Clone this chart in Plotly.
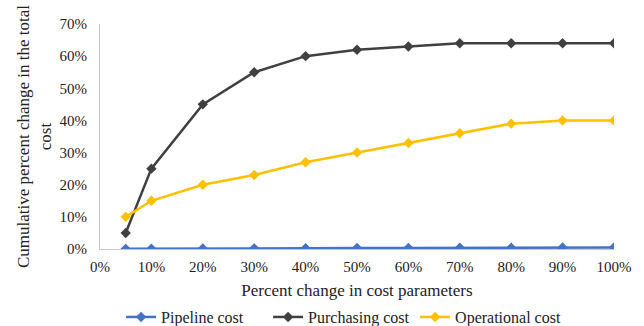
import plotly.graph_objects as go

# Percent change in cost parameters (x) and cumulative percent change in total cost (y)
x_pct = [5, 10, 20, 30, 40, 50, 60, 70, 80, 90, 100]
pipeline_cost = [0.05, 0.1, 0.15, 0.2, 0.25, 0.3, 0.33, 0.37, 0.4, 0.45, 0.5]
purchasing_cost = [5, 25, 45, 55, 60, 62, 63, 64, 64, 64, 64]
operational_cost = [10, 15, 20, 23, 27, 30, 33, 36, 39, 40, 40]

x_ticks = [0, 10, 20, 30, 40, 50, 60, 70, 80, 90, 100]
y_ticks = [0, 10, 20, 30, 40, 50, 60, 70]

FONT = "Liberation Serif"

fig = go.Figure()
series = [
    ("Pipeline cost", pipeline_cost, "#4472C4"),
    ("Purchasing cost", purchasing_cost, "#404040"),
    ("Operational cost", operational_cost, "#FFC000"),
]
for name, vals, color in series:
    fig.add_trace(go.Scatter(
        x=x_pct, y=vals, name=name, mode="lines+markers",
        line=dict(color=color, width=2.5),
        marker=dict(symbol="diamond", size=8, color=color),
    ))

fig.update_layout(
    width=644, height=326,
    margin=dict(l=100, r=30, t=24, b=77, autoexpand=False),
    paper_bgcolor="white", plot_bgcolor="white",
    font=dict(family=FONT, size=15, color="#222222"),
    showlegend=True,
    legend=dict(orientation="h", x=0.041, xanchor="left", y=-0.378, yanchor="bottom",
                font=dict(family=FONT, size=16), entrywidth=102,
                entrywidthmode="pixels", tracegroupgap=0),
    xaxis=dict(
        range=[0, 100], tickvals=x_ticks,
        ticktext=[f"{v}%" for v in x_ticks],
        showgrid=False, zeroline=False, showline=True,
        linecolor="#C8C8C8", linewidth=1, ticks="",
        tickfont=dict(family=FONT, size=15), ticklabelstandoff=4,
        title=dict(text="Percent change in cost parameters",
                   font=dict(family=FONT, size=17), standoff=10),
    ),
    yaxis=dict(
        range=[0, 70], tickvals=y_ticks,
        ticktext=[f"{v}%" for v in y_ticks],
        showgrid=False, zeroline=False, showline=True,
        linecolor="#C8C8C8", linewidth=1, ticks="",
        tickfont=dict(family=FONT, size=15), ticklabelstandoff=9,
        title=dict(text="Cumulative percent change in the total<br>cost",
                   font=dict(family=FONT, size=17), standoff=3),
    ),
)

fig.write_html("out.html")
